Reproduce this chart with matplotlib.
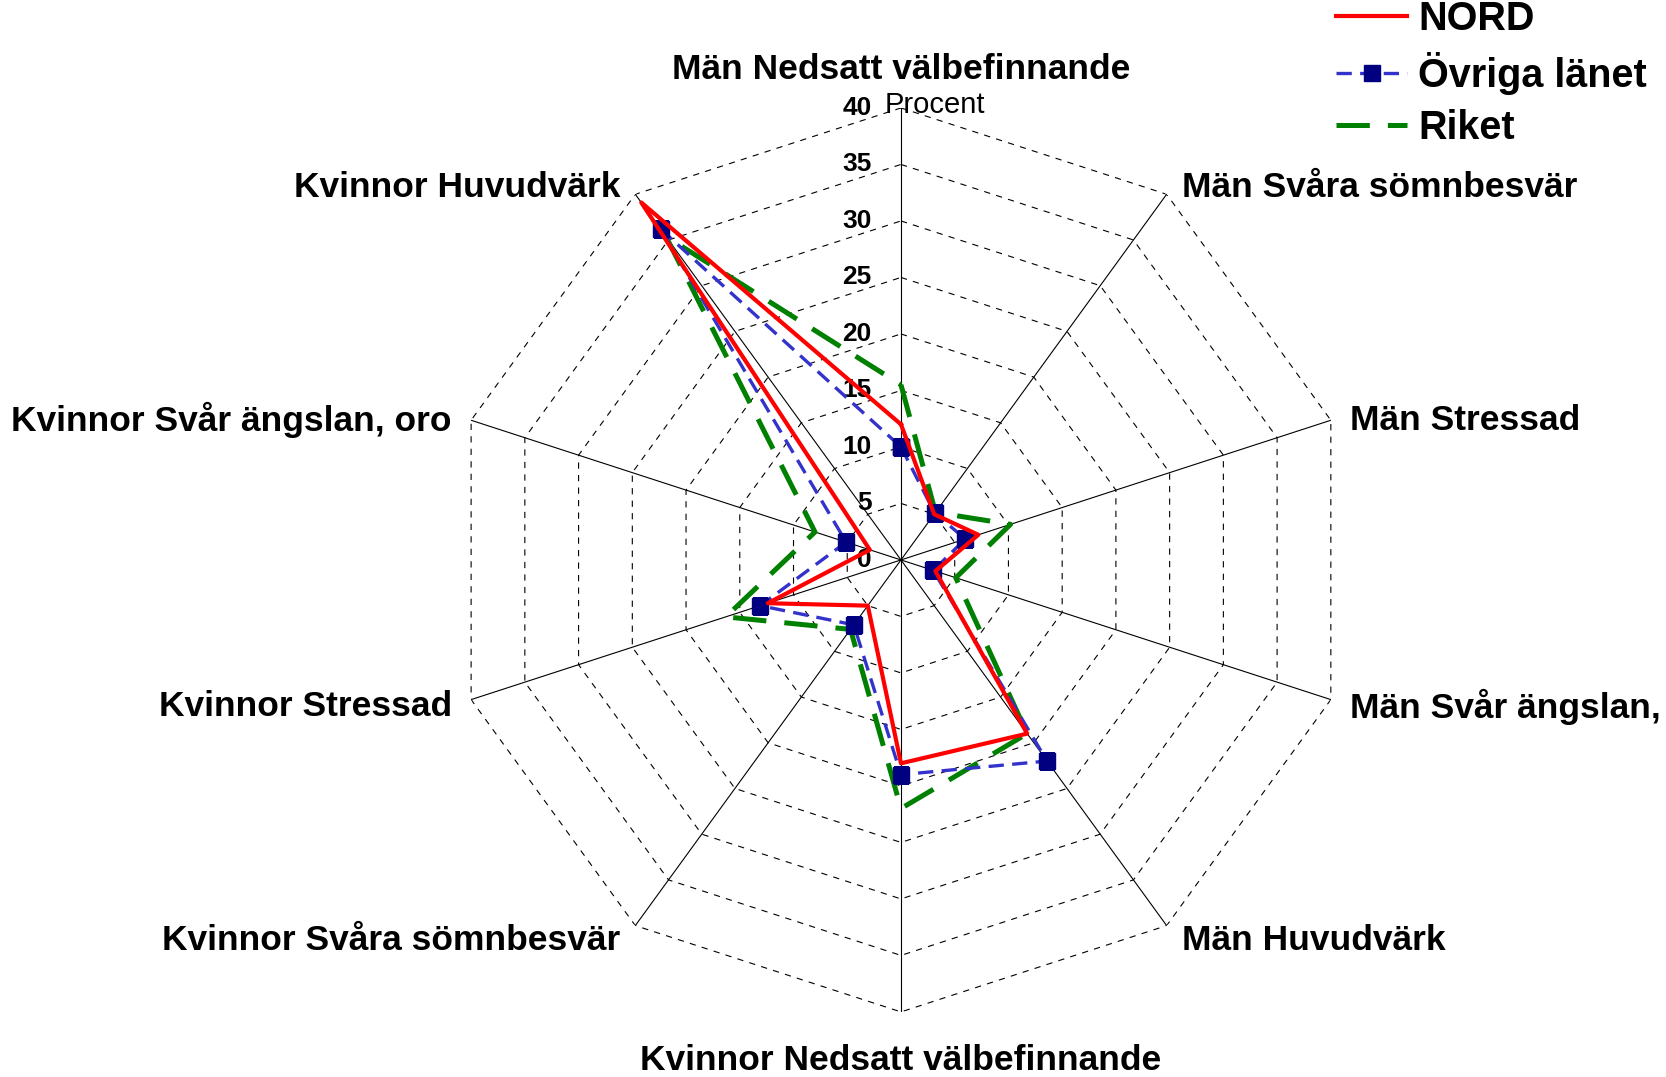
import numpy as np
import matplotlib
matplotlib.use("Agg")
import matplotlib.pyplot as plt

plt.rcParams['font.family'] = ['Liberation Sans', 'DejaVu Sans']
plt.rcParams['lines.scale_dashes'] = False

# axes, clockwise from the top
categories = ["Män Nedsatt välbefinnande", "Män Svåra sömnbesvär", "Män Stressad",
              "Män Svår ängslan, oro", "Män Huvudvärk", "Kvinnor Nedsatt välbefinnande",
              "Kvinnor Svåra sömnbesvär", "Kvinnor Stressad", "Kvinnor Svår ängslan, oro",
              "Kvinnor Huvudvärk"]
nord = [12.0, 5.0, 7.2, 3.2, 19.0, 18.0, 5.0, 12.4, 2.9, 39.1]
ovriga = [10.0, 5.1, 6.0, 3.0, 22.0, 19.0, 7.1, 13.1, 5.1, 36.2]
riket = [15.5, 5.2, 10.2, 5.1, 19.0, 22.0, 7.6, 16.3, 8.0, 35.4]
rticks = [0, 5, 10, 15, 20, 25, 30, 35, 40]

n = len(categories)
theta = np.linspace(0, 2 * np.pi, n, endpoint=False)
theta_c = np.append(theta, theta[0])

fig = plt.figure(figsize=(16.66, 10.77), dpi=100)
ax = fig.add_axes([0.2695, 0.0604, 0.5426, 0.8394], projection='polar')
ax.set_theta_zero_location('N')
ax.set_theta_direction(-1)
ax.set_ylim(0, 40)
ax.grid(False)
ax.set_xticks([])
ax.set_yticks([])
ax.spines['polar'].set_visible(False)
ax.patch.set_visible(False)

# decagon grid + spokes
for r in rticks[1:]:
    ax.plot(theta_c, [r] * (n + 1), color='black', lw=0.8, dashes=(4.5, 4.5), zorder=1)
for t in theta:
    ax.plot([t, t], [0, 40], color='black', lw=0.8, zorder=1)

def close(v):
    return v + v[:1]

ax.plot(theta_c, close(riket), color='#008000', lw=3.6, dashes=(24, 13), label='Riket', zorder=3)
ax.plot(theta_c, close(ovriga), color='#3333CC', lw=2.4, dashes=(11, 6),
        marker='s', markersize=11, markerfacecolor='#000080', markeredgecolor='#000080',
        label='Övriga länet', zorder=4)
ax.plot(theta_c, close(nord), color='#FF0000', lw=3.0, label='NORD', zorder=5)

# radial tick labels
for r in rticks:
    ax.annotate(str(r), xy=(0, r), xytext=(-21, 0), textcoords='offset points',
                ha='right', va='center', fontsize=19, fontweight='bold', annotation_clip=False)
ax.annotate("Procent", xy=(0, 40), xytext=(-11.5, 2), textcoords='offset points',
            ha='left', va='center', fontsize=21, annotation_clip=False)

# category labels
offsets = [(0, 28, 'center'), (11, 5, 'left'), (14, 0, 'left'), (14, -5, 'left'),
           (11, -11, 'left'), (0, -35, 'center'), (-11, -11, 'right'), (-14, -5, 'right'),
           (-14, 0, 'right'), (-11, 5, 'right')]
for t, lab, (dx, dy, ha) in zip(theta, categories, offsets):
    ax.annotate(lab, xy=(t, 40), xytext=(dx, dy), textcoords='offset points',
                ha=ha, va='center', fontsize=25.5, fontweight='bold', annotation_clip=False)

handles, labels = ax.get_legend_handles_labels()
order = [2, 1, 0]
fig.legend([handles[i] for i in order], [labels[i] for i in order],
           loc='upper left', bbox_to_anchor=(1336 / 1666, 1.0), frameon=False,
           borderpad=0, borderaxespad=0, handlelength=1.8, handletextpad=0.27,
           labelspacing=0.35, prop={'size': 28.5, 'weight': 'bold'})

fig.savefig("out.png", dpi=100)
plt.close(fig)
